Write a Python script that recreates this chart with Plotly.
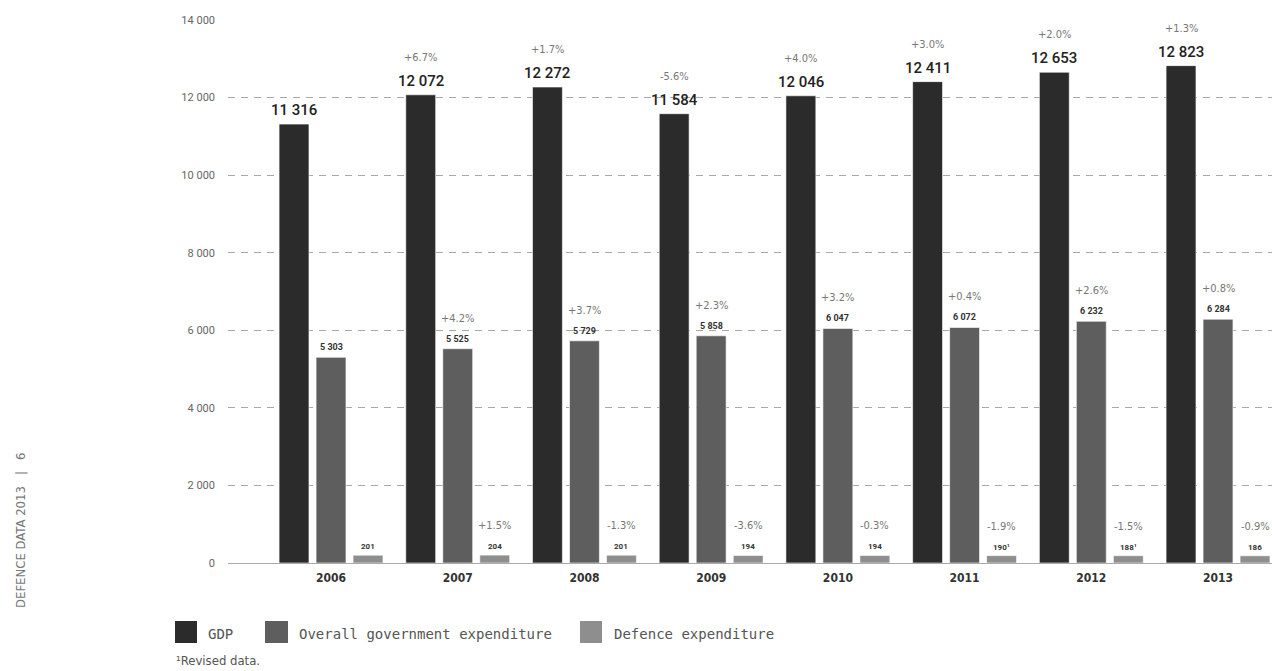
import plotly.graph_objects as go

# ---------------- data ----------------
years = [2006, 2007, 2008, 2009, 2010, 2011, 2012, 2013]
gdp = [11316, 12072, 12272, 11584, 12046, 12411, 12653, 12823]
gdp_pct = ["", "+6.7%", "+1.7%", "-5.6%", "+4.0%", "+3.0%", "+2.0%", "+1.3%"]
overall = [5303, 5525, 5729, 5858, 6047, 6072, 6232, 6284]
overall_pct = ["", "+4.2%", "+3.7%", "+2.3%", "+3.2%", "+0.4%", "+2.6%", "+0.8%"]
defence = [201, 204, 201, 194, 194, 190, 188, 186]
defence_pct = ["", "+1.5%", "-1.3%", "-3.6%", "-0.3%", "-1.9%", "-1.5%", "-0.9%"]
defence_revised = [False, False, False, False, False, True, True, False]
ytick_vals = [0, 2000, 4000, 6000, 8000, 10000, 12000, 14000]
ytick_text = ["0", "2 000", "4 000", "6 000", "8 000", "10 000", "12 000", "14 000"]
series_names = ["GDP", "Overall government expenditure", "Defence expenditure"]

# ---------------- style ----------------
W, H = 1272, 671
L, R, T, B = 228, 0, 20, 108
PW, PH = W - L - R, H - T - B
colors = ["#2b2b2b", "#5e5e5e", "#8e8e8e"]
BAR_W = 0.236
SHIFT = 0.292
offsets = [-SHIFT - BAR_W / 2, -BAR_W / 2, SHIFT - BAR_W / 2]
NUM_FONT = "Roboto, DejaVu Sans, sans-serif"
COND = "Liberation Sans Narrow, DejaVu Sans Condensed, sans-serif"
MONO = "DejaVu Sans Mono, monospace"


def fmt(v):
    return f"{v:,}".replace(",", " ")


def px(x):
    return (x - L) / PW


def py(y):
    return (T + PH - y) / PH


fig = go.Figure()
for vals, name, col, off in zip([gdp, overall, defence], series_names, colors, offsets):
    fig.add_trace(go.Bar(
        x=years, y=vals, name=name, width=BAR_W, offset=off,
        marker=dict(color=col, line=dict(color="rgba(255,255,255,0.6)", width=1)),
        showlegend=False, hoverinfo="x+y+name",
    ))

ann = []
# GDP labels
for yr, v, p in zip(years, gdp, gdp_pct):
    ann.append(dict(x=yr - SHIFT, y=v, text=fmt(v), showarrow=False, yanchor="bottom",
                    yshift=3, font=dict(family=NUM_FONT, size=15, color="#222", weight=500)))
    if p:
        ann.append(dict(x=yr - SHIFT, y=v, text=p, showarrow=False, yanchor="bottom",
                        yshift=29, font=dict(family=COND, size=11, color="#777")))
# Overall labels
for yr, v, p in zip(years, overall, overall_pct):
    ann.append(dict(x=yr, y=v, text=fmt(v), showarrow=False, yanchor="bottom",
                    yshift=3, font=dict(family=NUM_FONT, size=9, color="#333", weight=700)))
    if p:
        ann.append(dict(x=yr, y=v, text=p, showarrow=False, yanchor="bottom",
                        yshift=22, font=dict(family=COND, size=11, color="#777")))
# Defence labels
for yr, v, p, rev in zip(years, defence, defence_pct, defence_revised):
    ann.append(dict(x=yr + SHIFT, y=v, text=fmt(v) + ("¹" if rev else ""), showarrow=False,
                    yanchor="bottom", yshift=2,
                    font=dict(family=NUM_FONT, size=8, color="#333", weight=700)))
    if p:
        ann.append(dict(x=yr + SHIFT, y=v, text=p, showarrow=False, yanchor="bottom",
                        yshift=21, font=dict(family=COND, size=11, color="#777")))

# Legend (manual)
shapes = []
leg_boxes = [(175, 197), (265, 288), (580, 602)]
leg_text_x = [206, 297, 612]
for (x0, x1), tx, col, name in zip(leg_boxes, leg_text_x, colors, series_names):
    shapes.append(dict(type="rect", xref="paper", yref="paper",
                       x0=px(x0), x1=px(x1), y0=py(643), y1=py(621),
                       fillcolor=col, line=dict(width=0)))
    ann.append(dict(xref="paper", yref="paper", x=px(tx), y=py(634), text=name,
                    showarrow=False, xanchor="left", yanchor="middle",
                    font=dict(family=MONO, size=14, color="#555")))

ann.append(dict(xref="paper", yref="paper", x=px(174), y=py(660), text="¹Revised data.",
                showarrow=False, xanchor="left", yanchor="middle",
                font=dict(family=COND, size=13, color="#555")))
ann.append(dict(xref="paper", yref="paper", x=px(20), y=py(530),
                text="DEFENCE DATA 2013   |   6", textangle=-90, showarrow=False,
                xanchor="center", yanchor="middle",
                font=dict(family=COND, size=13, color="#777")))

fig.update_layout(
    width=W, height=H,
    margin=dict(l=L, r=R, t=T, b=B, pad=0),
    paper_bgcolor="white", plot_bgcolor="rgba(0,0,0,0)",
    barmode="overlay",
    annotations=ann, shapes=shapes,
    showlegend=False,
    xaxis=dict(range=[2005.187, 2013.426], tickvals=years, ticktext=[str(y) for y in years],
               showgrid=False, zeroline=False, showline=False, ticks="",
               tickfont=dict(family=COND, size=12, color="#333", weight=700),
               ticklabelstandoff=6),
    yaxis=dict(range=[0, 14000], tickvals=ytick_vals, ticktext=ytick_text,
               showgrid=True, gridcolor="#a8a8a8", griddash="7px,6px", gridwidth=1,
               zeroline=True, zerolinecolor="#aaaaaa", zerolinewidth=1,
               showline=False, ticks="", ticklabelstandoff=12,
               tickfont=dict(family=NUM_FONT, size=11, color="#666")),
)

fig.write_html("out.html")
